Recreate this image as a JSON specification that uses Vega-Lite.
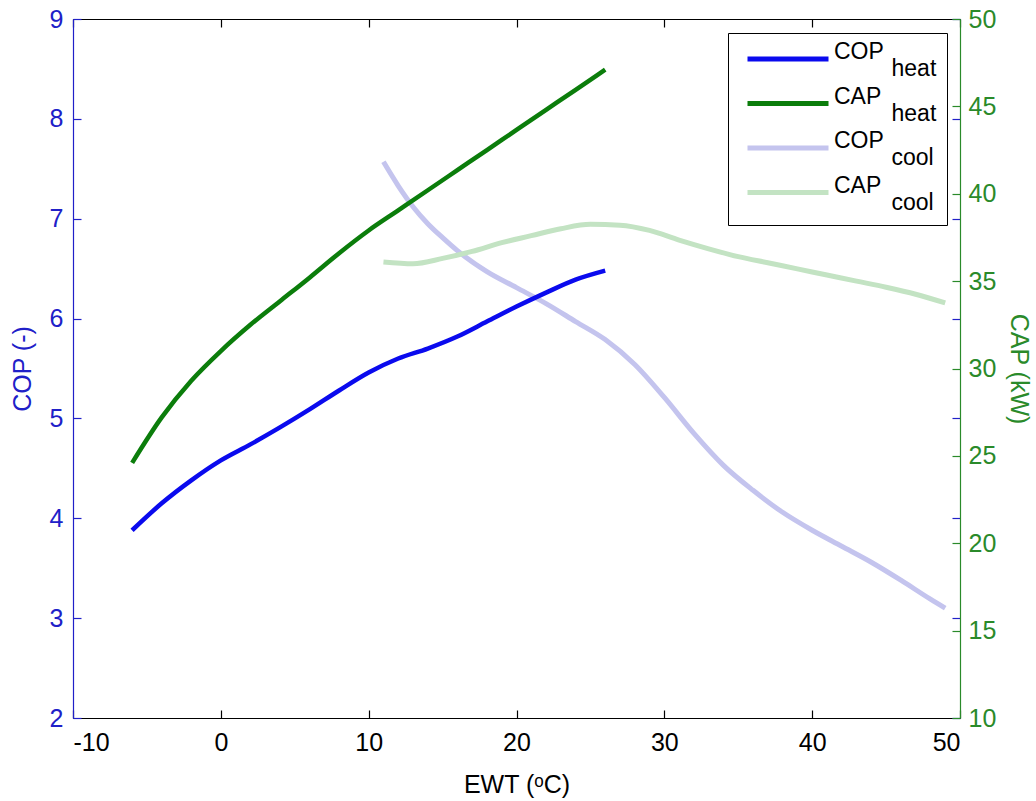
{
  "$schema": "https://vega.github.io/schema/vega-lite/v6.json",
  "autosize": "none",
  "width": 887,
  "height": 699,
  "padding": {"left": 73, "top": 19, "right": 76, "bottom": 83},
  "background": "white",
  "config": {
    "view": {"stroke": null},
    "font": "Liberation Sans",
    "style": {"guide-label": {"lineHeight": 17}},
    "axis": {"grid": false, "labelFont": "Liberation Sans", "titleFont": "Liberation Sans", "titleFontWeight": "normal", "labelFontSize": 25, "titleFontSize": 25, "tickSize": -8, "tickWidth": 1.2, "domainWidth": 1.2}
  },
  "datasets": {
    "cop_heat": [
      {"T": -6, "v": 3.88, "s": "COP_heat"}, {"T": -4, "v": 4.15, "s": "COP_heat"}, {"T": -2, "v": 4.38, "s": "COP_heat"},
      {"T": 0, "v": 4.58, "s": "COP_heat"}, {"T": 2, "v": 4.74, "s": "COP_heat"}, {"T": 4, "v": 4.91, "s": "COP_heat"},
      {"T": 6, "v": 5.09, "s": "COP_heat"}, {"T": 8, "v": 5.28, "s": "COP_heat"}, {"T": 10, "v": 5.46, "s": "COP_heat"},
      {"T": 12, "v": 5.6, "s": "COP_heat"}, {"T": 14, "v": 5.7, "s": "COP_heat"}, {"T": 16, "v": 5.82, "s": "COP_heat"},
      {"T": 18, "v": 5.97, "s": "COP_heat"}, {"T": 20, "v": 6.12, "s": "COP_heat"}, {"T": 22, "v": 6.26, "s": "COP_heat"},
      {"T": 24, "v": 6.39, "s": "COP_heat"}, {"T": 26, "v": 6.48, "s": "COP_heat"}
    ],
    "cap_heat": [
      {"T": -6, "v": 24.6, "s": "CAP_heat"}, {"T": -4, "v": 27.2, "s": "CAP_heat"}, {"T": -2, "v": 29.3, "s": "CAP_heat"},
      {"T": 0, "v": 31.0, "s": "CAP_heat"}, {"T": 2, "v": 32.5, "s": "CAP_heat"}, {"T": 4, "v": 33.85, "s": "CAP_heat"},
      {"T": 6, "v": 35.2, "s": "CAP_heat"}, {"T": 8, "v": 36.6, "s": "CAP_heat"}, {"T": 10, "v": 37.9, "s": "CAP_heat"},
      {"T": 12, "v": 39.05, "s": "CAP_heat"}, {"T": 14, "v": 40.2, "s": "CAP_heat"}, {"T": 16, "v": 41.35, "s": "CAP_heat"},
      {"T": 18, "v": 42.5, "s": "CAP_heat"}, {"T": 20, "v": 43.65, "s": "CAP_heat"}, {"T": 22, "v": 44.8, "s": "CAP_heat"},
      {"T": 24, "v": 45.95, "s": "CAP_heat"}, {"T": 26, "v": 47.1, "s": "CAP_heat"}
    ],
    "cop_cool": [
      {"T": 11, "v": 7.57, "s": "COP_cool"}, {"T": 12, "v": 7.33, "s": "COP_cool"}, {"T": 13, "v": 7.12, "s": "COP_cool"},
      {"T": 14, "v": 6.95, "s": "COP_cool"}, {"T": 15, "v": 6.81, "s": "COP_cool"}, {"T": 16, "v": 6.68, "s": "COP_cool"},
      {"T": 18, "v": 6.47, "s": "COP_cool"}, {"T": 20, "v": 6.31, "s": "COP_cool"}, {"T": 22, "v": 6.15, "s": "COP_cool"},
      {"T": 24, "v": 5.97, "s": "COP_cool"}, {"T": 26, "v": 5.79, "s": "COP_cool"}, {"T": 28, "v": 5.54, "s": "COP_cool"},
      {"T": 30, "v": 5.21, "s": "COP_cool"}, {"T": 32, "v": 4.85, "s": "COP_cool"}, {"T": 34, "v": 4.53, "s": "COP_cool"},
      {"T": 36, "v": 4.28, "s": "COP_cool"}, {"T": 38, "v": 4.06, "s": "COP_cool"}, {"T": 40, "v": 3.88, "s": "COP_cool"},
      {"T": 42, "v": 3.72, "s": "COP_cool"}, {"T": 44, "v": 3.56, "s": "COP_cool"}, {"T": 46, "v": 3.38, "s": "COP_cool"},
      {"T": 48, "v": 3.19, "s": "COP_cool"}, {"T": 49, "v": 3.1, "s": "COP_cool"}
    ],
    "cap_cool": [
      {"T": 11, "v": 36.1, "s": "CAP_cool"}, {"T": 13, "v": 36.0, "s": "CAP_cool"}, {"T": 15, "v": 36.3, "s": "CAP_cool"},
      {"T": 17, "v": 36.7, "s": "CAP_cool"}, {"T": 19, "v": 37.2, "s": "CAP_cool"}, {"T": 21, "v": 37.6, "s": "CAP_cool"},
      {"T": 23, "v": 38.0, "s": "CAP_cool"}, {"T": 25, "v": 38.25, "s": "CAP_cool"}, {"T": 27, "v": 38.2, "s": "CAP_cool"},
      {"T": 29, "v": 37.9, "s": "CAP_cool"}, {"T": 31, "v": 37.35, "s": "CAP_cool"}, {"T": 33, "v": 36.85, "s": "CAP_cool"},
      {"T": 35, "v": 36.4, "s": "CAP_cool"}, {"T": 37, "v": 36.05, "s": "CAP_cool"}, {"T": 39, "v": 35.7, "s": "CAP_cool"},
      {"T": 41, "v": 35.35, "s": "CAP_cool"}, {"T": 43, "v": 35.0, "s": "CAP_cool"}, {"T": 45, "v": 34.65, "s": "CAP_cool"},
      {"T": 47, "v": 34.25, "s": "CAP_cool"}, {"T": 49, "v": 33.75, "s": "CAP_cool"}
    ]
  },
  "layer": [
    {
      "data": {"name": "cop_cool"},
      "mark": {"type": "line", "interpolate": "monotone", "strokeWidth": 5},
      "encoding": {
        "x": {"field": "T", "type": "quantitative", "scale": {"domain": [-10, 50], "nice": false},
          "axis": {"orient": "top", "labels": false, "title": null, "values": [-10, 0, 10, 20, 30, 40, 50], "domainColor": "#000000", "tickColor": "#000000"}},
        "y": {"field": "v", "type": "quantitative", "scale": {"domain": [2, 9], "nice": false},
          "axis": {"orient": "right", "labels": false, "title": null, "domain": false, "values": [2, 3, 4, 5, 6, 7, 8, 9], "tickColor": "#2020c8"}},
        "color": {"field": "s", "type": "nominal",
          "scale": {"domain": ["COP_heat", "CAP_heat", "COP_cool", "CAP_cool"], "range": ["#0a0aee", "#0b7d0b", "#c4c4ee", "#c3e3c3"]},
          "legend": {
            "orient": "none", "legendX": 655, "legendY": 14, "title": null,
            "fillColor": "white", "strokeColor": "#000000", "padding": 10,
            "symbolType": "M-1,0H5", "symbolSize": 729, "symbolStrokeWidth": 5, "symbolOffset": 7,
            "labelFontSize": 23, "labelFont": "Liberation Sans", "labelColor": "#000000", "labelBaseline": "alphabetic",
            "labelExpr": "[split(datum.label, '_')[0], '\u200b\u00a0\u00a0\u00a0\u00a0\u00a0\u00a0\u00a0\u00a0\u00a0' + split(datum.label, '_')[1]]",
            "rowPadding": 4.5, "labelOffset": 57
          }}
      }
    },
    {
      "data": {"name": "cap_cool"},
      "mark": {"type": "line", "interpolate": "monotone", "strokeWidth": 5},
      "encoding": {
        "x": {"field": "T", "type": "quantitative", "axis": null},
        "y": {"field": "v", "type": "quantitative", "scale": {"domain": [10, 50], "nice": false}, "axis": null},
        "color": {"field": "s", "type": "nominal"}
      }
    },
    {
      "data": {"name": "cop_heat"},
      "mark": {"type": "line", "interpolate": "monotone", "strokeWidth": 4.5},
      "encoding": {
        "x": {"field": "T", "type": "quantitative",
          "axis": {"orient": "bottom", "title": "EWT (ᵒC)", "values": [-10, 0, 10, 20, 30, 40, 50], "labelExpr": "'' + datum.value", "domainColor": "#000000", "tickColor": "#000000", "labelColor": "#000000", "titleColor": "#000000", "labelFontSize": 25, "titleFontSize": 25, "labelPadding": 20, "titlePadding": 17}},
        "y": {"field": "v", "type": "quantitative", "scale": {"domain": [2, 9], "nice": false},
          "axis": {"orient": "left", "title": "COP (-)", "values": [2, 3, 4, 5, 6, 7, 8, 9], "domainColor": "#2020c8", "tickColor": "#2020c8", "labelColor": "#2020c8", "titleColor": "#2020c8", "labelFontSize": 25, "titleFontSize": 25, "labelPadding": 18, "titlePadding": 14}},
        "color": {"field": "s", "type": "nominal"}
      }
    },
    {
      "data": {"name": "cap_heat"},
      "mark": {"type": "line", "interpolate": "monotone", "strokeWidth": 4.5},
      "encoding": {
        "x": {"field": "T", "type": "quantitative", "axis": null},
        "y": {"field": "v", "type": "quantitative", "scale": {"domain": [10, 50], "nice": false},
          "axis": {"orient": "right", "title": "CAP (kW)", "values": [10, 15, 20, 25, 30, 35, 40, 45, 50], "domainColor": "#2a8a2a", "tickColor": "#2a8a2a", "labelColor": "#2a8a2a", "titleColor": "#2a8a2a", "labelFontSize": 25, "titleFontSize": 25, "labelPadding": 16, "titlePadding": 10}},
        "color": {"field": "s", "type": "nominal"}
      }
    }
  ],
  "resolve": {"scale": {"y": "independent"}, "axis": {"x": "independent", "y": "independent"}}
}
